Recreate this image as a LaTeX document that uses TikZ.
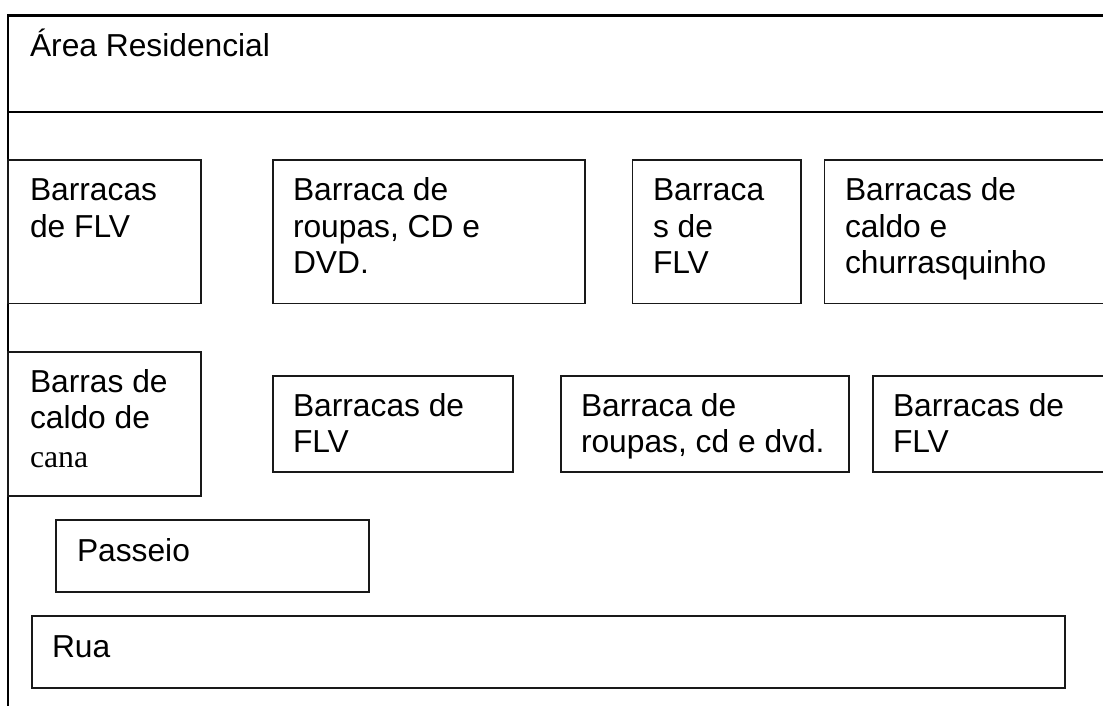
\documentclass[tikz,border=0pt]{standalone}
\usepackage{fontspec}
\setmainfont{Liberation Sans}
\newfontfamily\serifpart{Liberation Serif}
\tikzset{
  x=1pt,y=-1pt,
  frameline/.style={line width=2pt,draw=black},
  topline/.style={line width=3.2pt,draw=black},
  box/.style={draw=black!90,line width=1.7pt,rectangle,anchor=north west,inner sep=0pt,outer sep=0pt},
  lbl/.style={anchor=base west,inner sep=0pt,outer sep=0pt,text=black,font=\fontsize{31.75}{36.5}\selectfont}
}
\newcommand{\bx}[5]{\node[box,minimum width=#4pt-#2pt,minimum height=#5pt-#3pt] (#1) at (#2,#3) {};}
\newcommand{\tx}[4]{\node[lbl] (#1) at (#2,#3) {\parbox[t]{320pt}{\raggedright #4}};}
\begin{document}
\begin{tikzpicture}
\useasboundingbox (0,0) rectangle (1103,706);
\fill[white] (0,0) rectangle (1103,706);
\coordinate (tl) at (8,15.5);
\coordinate (tr) at (1110,15.5);
\coordinate (bl) at (8,712);
\coordinate (ml) at (8,112);
\coordinate (mr) at (1110,112);
\draw[frameline] (tl) -- (bl);
\draw[topline] ([xshift=-1pt]tl) -- (tr);
\draw[frameline] (ml) -- (mr);
\bx{a1}{8}{160}{201}{303.5}
\bx{a2}{273}{160}{585}{303.5}
\bx{a3}{632.5}{160}{801}{303.5}
\bx{a4}{824.5}{160}{1112}{303.5}
\bx{b1}{8}{352}{201}{496}
\bx{b2}{273}{376}{513}{472}
\bx{b3}{561}{376}{849}{472}
\bx{b4}{873}{376}{1112}{472}
\bx{p}{56}{520}{369}{592}
\bx{r}{32}{616}{1065}{688}
\tx{ta}{30}{57}{Área Residencial}
\tx{t1}{30}{200.5}{Barracas\\de FLV}
\tx{t2}{293}{200.5}{Barraca de\\roupas, CD e\\DVD.}
\tx{t3}{653}{200.5}{Barraca\\s de\\FLV}
\tx{t4}{845}{200.5}{Barracas de\\caldo e\\churrasquinho}
\tx{t5}{30}{392}{Barras de\\caldo de\\[2pt]{\serifpart cana}}
\tx{t6}{293}{416}{Barracas de\\FLV}
\tx{t7}{581}{416}{Barraca de\\roupas, cd e dvd.}
\tx{t8}{893}{416}{Barracas de\\FLV}
\tx{t9}{77}{561}{Passeio}
\tx{t10}{52}{657}{Rua}
\end{tikzpicture}
\end{document}
